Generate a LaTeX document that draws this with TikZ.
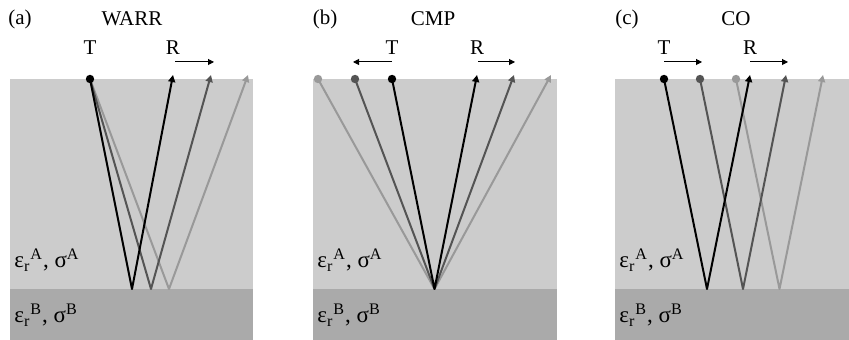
\documentclass[tikz,border=0pt]{standalone}
\usepackage{fontspec}
\setmainfont{Liberation Serif}
\usetikzlibrary{arrows.meta}
\definecolor{layerA}{gray}{0.8}
\definecolor{layerB}{gray}{0.667}
\definecolor{raydark}{gray}{0.33}
\definecolor{raylight}{gray}{0.6}
\newcommand{\matA}{ε\textsubscript{r}\textsuperscript{A}, σ\textsuperscript{A}}
\newcommand{\matB}{ε\textsubscript{r}\textsuperscript{B}, σ\textsuperscript{B}}

\begin{document}
\begin{tikzpicture}[x=0.5pt, y=-0.5pt, font=\fontsize{10.5}{12}\selectfont,
    ray/.style={line width=1pt, line join=round},
    rayrx/.style={ray, -{Triangle[length=3.5pt, width=3.5pt]}},
    txdot/.style={circle, fill, inner sep=0pt, minimum size=4.2pt},
    move/.style={line width=0.5pt, -{Triangle[length=3pt, width=3pt]}},
    mat/.style={anchor=base west, inner sep=0pt, font=\fontsize{11.5}{13}\selectfont}]
    \useasboundingbox (0,0) rectangle (849,340);

    % (a) WARR
    \fill[layerA] (10,79) rectangle (253,289);
    \fill[layerB] (10,289) rectangle (253,340);
    \node (alab) at (20,19) {(a)};
    \node (atitle) at (132,19) {WARR};
    \node (aTlab) at (90,48) {T};
    \node (aRlab) at (173,48) {R};
    \coordinate (aT) at (90,79);
    \coordinate (aR1) at (173,75);
    \coordinate (aR2) at (211,75);
    \coordinate (aR3) at (248,75);
    \coordinate (aB1) at (132,289);
    \coordinate (aB2) at (151,289);
    \coordinate (aB3) at (169,289);
    \draw[rayrx, raylight] (aT) -- (aB3) -- (aR3);
    \draw[rayrx, raydark] (aT) -- (aB2) -- (aR2);
    \draw[rayrx, black] (aT) -- (aB1) -- (aR1);
    \node[txdot, black] (aTdot) at (aT) {};
    \coordinate (aRm0) at (175,62);
    \coordinate (aRm1) at (214,62);
    \draw[move] (aRm0) -- (aRm1);
    \node[mat] (aA) at (14,268) {\matA};
    \node[mat] (aB) at (14,323) {\matB};

    % (b) CMP
    \fill[layerA] (313,79) rectangle (557,289);
    \fill[layerB] (313,289) rectangle (557,340);
    \node (blab) at (325,19) {(b)};
    \node (btitle) at (433,19) {CMP};
    \node (bTlab) at (392,48) {T};
    \node (bRlab) at (477,48) {R};
    \coordinate (bT1) at (392,79);
    \coordinate (bT2) at (355,79);
    \coordinate (bT3) at (318,79);
    \coordinate (bR1) at (477,75);
    \coordinate (bR2) at (514,75);
    \coordinate (bR3) at (551,75);
    \coordinate (bB) at (434.5,289);
    \draw[rayrx, raylight] (bT3) -- (bB) -- (bR3);
    \draw[rayrx, raydark] (bT2) -- (bB) -- (bR2);
    \draw[rayrx, black] (bT1) -- (bB) -- (bR1);
    \node[txdot, raylight] (bT3dot) at (bT3) {};
    \node[txdot, raydark] (bT2dot) at (bT2) {};
    \node[txdot, black] (bT1dot) at (bT1) {};
    \coordinate (bTm0) at (392,62);
    \coordinate (bTm1) at (353,62);
    \draw[move] (bTm0) -- (bTm1);
    \coordinate (bRm0) at (478,62);
    \coordinate (bRm1) at (515,62);
    \draw[move] (bRm0) -- (bRm1);
    \node[mat] (bA) at (317,268) {\matA};
    \node[mat] (bB) at (317,323) {\matB};

    % (c) CO
    \fill[layerA] (615,79) rectangle (849,289);
    \fill[layerB] (615,289) rectangle (849,340);
    \node (clab) at (627,19) {(c)};
    \node (ctitle) at (736,19) {CO};
    \node (cTlab) at (664,48) {T};
    \node (cRlab) at (750,48) {R};
    \coordinate (cT1) at (664,79);
    \coordinate (cT2) at (700,79);
    \coordinate (cT3) at (736,79);
    \coordinate (cR1) at (750,75);
    \coordinate (cR2) at (786,75);
    \coordinate (cR3) at (823,75);
    \coordinate (cB1) at (707,289);
    \coordinate (cB2) at (743,289);
    \coordinate (cB3) at (779.5,289);
    \draw[rayrx, raylight] (cT3) -- (cB3) -- (cR3);
    \draw[rayrx, raydark] (cT2) -- (cB2) -- (cR2);
    \draw[rayrx, black] (cT1) -- (cB1) -- (cR1);
    \node[txdot, raylight] (cT3dot) at (cT3) {};
    \node[txdot, raydark] (cT2dot) at (cT2) {};
    \node[txdot, black] (cT1dot) at (cT1) {};
    \coordinate (cTm0) at (664,62);
    \coordinate (cTm1) at (702,62);
    \draw[move] (cTm0) -- (cTm1);
    \coordinate (cRm0) at (750,62);
    \coordinate (cRm1) at (788,62);
    \draw[move] (cRm0) -- (cRm1);
    \node[mat] (cA) at (619,268) {\matA};
    \node[mat] (cB) at (619,323) {\matB};
\end{tikzpicture}
\end{document}
